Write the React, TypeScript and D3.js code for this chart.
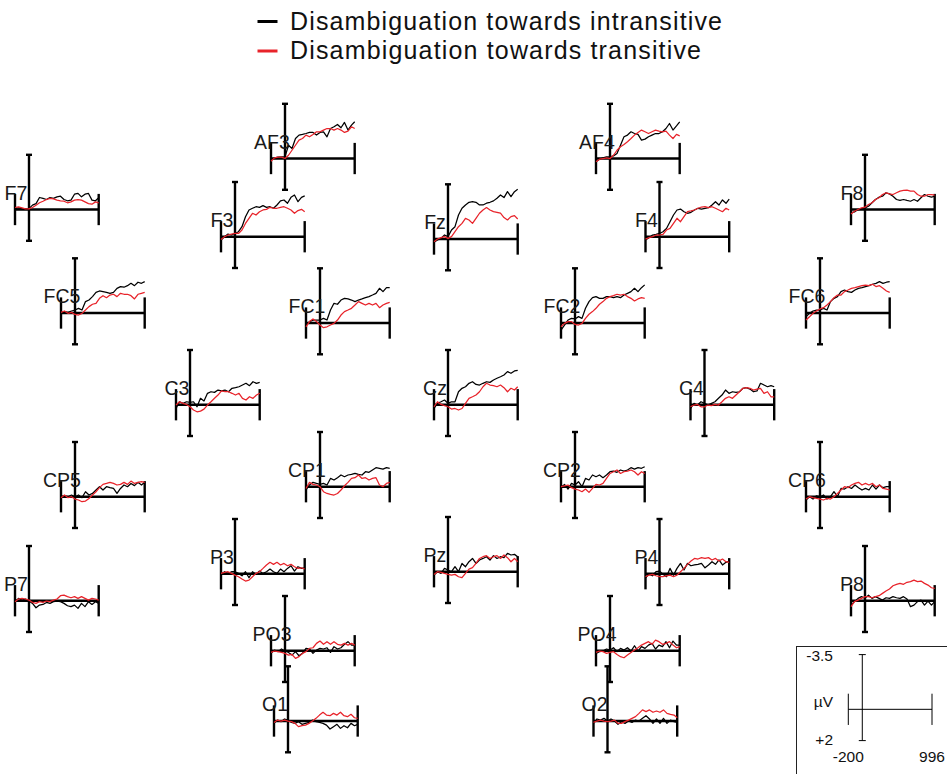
import React from 'react';
import * as d3 from 'd3';

// sample times (ms) for every waveform
const times = [-200, -150, -100, -50, 0, 50, 100, 150, 200, 250, 300, 350, 400, 450, 500, 550, 600, 650, 700, 750, 800, 850, 900, 950, 996];

const seriesNames = ['Disambiguation towards intransitive', 'Disambiguation towards transitive'];

// amplitudes in microvolts (negative plotted up), intransitive / transitive
const F7_intr = [-0.06, -0.11, -0.06, -0.04, -0.06, -0.28, -0.38, -0.77, -0.71, -0.64, -0.77, -0.71, -0.81, -0.85, -0.64, -0.56, -0.6, -0.98, -1.03, -0.81, -0.98, -1.03, -0.6, -0.56, -0.75];
const F7_tran = [-0.13, -0.17, -0.11, -0.04, -0.04, -0.13, -0.28, -0.43, -0.53, -0.64, -0.71, -0.68, -0.6, -0.56, -0.53, -0.43, -0.49, -0.6, -0.64, -0.6, -0.49, -0.38, -0.34, -0.49, -0.43];
const AF3_intr = [0.11, -0.04, -0.09, -0.11, -0.11, -0.85, -0.64, -1.28, -1.5, -1.54, -1.6, -1.67, -1.67, -1.5, -1.67, -1.71, -1.39, -1.92, -2.03, -2.18, -1.97, -2.31, -1.82, -2.14, -2.35];
const AF3_tran = [0.17, -0.04, -0.09, -0.09, 0, -0.21, -0.53, -0.85, -1.18, -1.28, -1.5, -1.39, -1.54, -1.71, -1.71, -1.82, -1.92, -1.92, -1.82, -1.92, -1.82, -1.67, -1.75, -2.03, -1.92];
const F3_intr = [0.21, 0, -0.17, -0.11, -0.21, -0.32, -0.64, -1.28, -1.71, -1.82, -1.92, -1.88, -1.99, -1.88, -1.92, -1.82, -2.03, -2.29, -2.35, -2.14, -2.52, -2.67, -2.24, -2.52, -2.61];
const F3_tran = [0.17, 0, -0.11, -0.17, -0.21, -0.21, -0.43, -0.85, -1.18, -1.5, -1.39, -1.6, -1.71, -1.75, -1.88, -1.82, -1.82, -1.88, -1.92, -1.82, -1.71, -1.5, -1.67, -1.75, -1.6];
const Fz_intr = [0.21, 0.06, -0.04, -0.26, -0.15, -0.58, -0.79, -1.54, -1.97, -2.18, -2.35, -2.39, -2.35, -2.18, -2.18, -2.29, -2.35, -2.44, -2.61, -2.82, -2.65, -3.03, -2.71, -3.03, -3.18];
const Fz_tran = [0.17, 0, -0.09, -0.15, -0.04, -0.15, -0.47, -0.79, -1.0, -1.32, -1.22, -1.0, -1.32, -1.65, -1.86, -2.01, -1.86, -1.75, -1.71, -1.65, -1.37, -1.22, -1.43, -1.5, -1.28];
const AF4_intr = [0.21, 0.04, -0.04, -0.11, -0.11, -0.17, -0.32, -0.85, -1.39, -1.5, -1.71, -1.6, -1.54, -1.18, -1.24, -1.39, -1.5, -1.6, -1.6, -1.71, -1.92, -2.24, -1.82, -2.09, -2.35];
const AF4_tran = [0.21, 0.04, 0, -0.04, 0, -0.21, -0.53, -0.75, -0.9, -1.07, -1.28, -1.5, -1.67, -1.82, -1.71, -1.6, -1.71, -1.82, -1.75, -1.71, -1.75, -1.5, -1.28, -1.54, -1.45];
const F4_intr = [0.21, 0.06, -0.11, -0.15, -0.21, -0.32, -0.53, -0.96, -1.39, -1.71, -1.77, -1.6, -1.5, -1.56, -1.71, -1.82, -1.77, -1.82, -1.86, -2.03, -2.24, -2.03, -2.35, -2.14, -2.41];
const F4_tran = [0.15, 0.06, 0, -0.11, -0.11, -0.15, -0.43, -0.53, -0.85, -1.18, -0.96, -1.28, -1.6, -1.65, -1.71, -1.82, -1.9, -1.92, -1.86, -1.92, -1.82, -1.71, -1.6, -1.82, -1.71];
const F8_intr = [0.21, 0.15, 0, -0.06, -0.11, -0.21, -0.43, -0.64, -0.79, -0.85, -1.07, -1.0, -0.85, -0.64, -0.58, -0.64, -0.58, -0.53, -0.64, -0.53, -0.75, -0.96, -0.85, -0.79, -0.85];
const F8_tran = [0.28, 0.11, 0, -0.11, -0.15, -0.32, -0.43, -0.64, -0.75, -0.96, -1.07, -1.0, -0.96, -1.07, -1.18, -1.22, -1.24, -1.18, -1.18, -0.96, -0.85, -0.85, -0.96, -0.96, -0.92];
const FC5_intr = [0.02, -0.09, -0.04, -0.13, -0.19, -0.3, -0.19, -0.73, -0.83, -1.05, -1.32, -1.41, -1.37, -1.32, -1.26, -1.32, -1.58, -1.69, -1.65, -1.75, -1.9, -1.75, -1.97, -1.9, -2.01];
const FC5_tran = [-0.04, -0.13, 0.02, -0.04, 0.09, 0.13, 0.02, -0.19, -0.41, -0.56, -0.62, -0.94, -1.11, -0.98, -1.15, -1.2, -1.05, -1.26, -1.2, -1.2, -1.11, -0.9, -1.2, -1.26, -1.32];
const FC1_intr = [0.13, -0.09, -0.19, -0.19, -0.19, -0.3, -0.19, -0.83, -1.26, -1.2, -1.47, -1.58, -1.54, -1.47, -1.37, -1.47, -1.54, -1.62, -1.69, -1.79, -1.9, -2.22, -2.01, -2.26, -2.26];
const FC1_tran = [0.24, -0.09, -0.26, -0.09, 0.13, 0.3, 0.24, 0.13, 0.02, -0.19, -0.51, -0.73, -0.83, -0.94, -1.15, -1.37, -1.26, -1.15, -1.26, -1.15, -1.26, -0.98, -1.15, -1.26, -1.32];
const FC2_intr = [0.45, 0.13, -0.19, -0.3, -0.26, -0.41, -0.3, -0.94, -1.37, -1.62, -1.69, -1.58, -1.58, -1.69, -1.69, -1.62, -1.69, -1.62, -1.79, -1.9, -2.01, -2.22, -2.01, -2.26, -2.44];
const FC2_tran = [0.24, 0.02, -0.09, -0.09, 0.09, 0.13, 0.02, -0.3, -0.56, -0.73, -0.94, -1.2, -1.37, -1.58, -1.69, -1.75, -1.84, -1.79, -1.84, -1.69, -1.58, -1.41, -1.54, -1.62, -1.58];
const FC6_intr = [0.24, 0.02, -0.13, -0.19, -0.19, -0.3, -0.19, -0.73, -0.94, -1.05, -1.37, -1.47, -1.37, -1.32, -1.47, -1.58, -1.62, -1.69, -1.75, -1.84, -1.9, -2.01, -1.9, -1.97, -2.01];
const FC6_tran = [0.45, 0.24, 0.02, -0.13, -0.26, -0.34, -0.51, -0.73, -0.98, -1.15, -1.15, -1.37, -1.47, -1.58, -1.62, -1.69, -1.75, -1.79, -1.75, -1.84, -1.69, -1.75, -1.58, -1.41, -1.32];
const C3_intr = [0.24, -0.19, -0.09, -0.19, -0.15, -0.19, 0.13, -0.41, -0.24, -0.73, -0.83, -0.79, -0.94, -0.88, -0.94, -0.83, -1.05, -1.09, -1.15, -1.26, -1.37, -1.22, -1.47, -1.37, -1.43];
const C3_tran = [0.02, -0.19, -0.09, -0.02, 0.13, 0.34, 0.45, 0.41, 0.28, 0.02, -0.19, -0.41, -0.62, -0.88, -0.83, -0.83, -0.73, -0.62, -0.73, -0.41, -0.3, -0.51, -0.41, -0.62, -0.73];
const Cz_intr = [0.24, -0.09, -0.19, -0.3, -0.09, -0.19, -0.19, -0.83, -1.05, -1.15, -1.37, -1.47, -1.3, -1.26, -1.37, -1.47, -1.43, -1.58, -1.69, -1.79, -1.9, -2.12, -2.01, -2.16, -2.2];
const Cz_tran = [0.13, -0.19, -0.02, 0.06, 0.13, 0.28, 0.24, 0.34, 0.24, -0.09, -0.41, -0.51, -0.62, -0.83, -1.15, -1.37, -1.26, -1.22, -1.15, -1.26, -1.09, -0.83, -1.05, -0.94, -1.15];
const C4_intr = [0.24, -0.09, 0.02, -0.19, -0.09, 0.02, -0.09, -0.19, -0.41, -0.62, -0.94, -0.73, -0.83, -0.79, -0.83, -1.05, -1.09, -1.0, -0.83, -0.88, -1.37, -1.26, -1.15, -1.22, -1.15];
const C4_tran = [0.13, 0.02, -0.02, 0.13, 0.13, 0.02, 0.06, -0.02, 0.02, -0.19, -0.41, -0.51, -0.41, -0.62, -0.83, -1.05, -1.09, -1.05, -0.94, -1.0, -1.05, -0.73, -0.83, -0.51, -0.51];
const CP5_intr = [0, -0.06, 0, -0.11, 0, -0.11, 0.06, -0.32, -0.11, -0.21, -0.43, -0.64, -0.43, -0.64, -0.58, -0.53, -0.21, -0.53, -0.75, -0.64, -0.85, -0.71, -0.92, -0.75, -0.92];
const CP5_tran = [0.06, -0.11, 0.06, 0, 0.15, 0.21, 0.32, 0.28, 0.11, -0.11, -0.32, -0.58, -0.79, -0.85, -0.92, -0.85, -0.75, -0.79, -0.92, -0.79, -1.0, -0.85, -0.92, -0.96, -0.92];
const CP1_intr = [0.21, -0.11, -0.28, -0.21, -0.15, -0.21, -0.11, -0.53, -0.43, -0.58, -0.75, -0.64, -0.75, -0.79, -0.85, -0.79, -0.75, -0.96, -0.92, -1.07, -1.22, -1.18, -1.13, -1.22, -1.18];
const CP1_tran = [0.11, -0.28, -0.15, -0.11, 0, 0.32, 0.43, 0.49, 0.53, 0.43, 0.21, -0.06, -0.28, -0.53, -0.58, -0.75, -0.53, -0.58, -0.43, -0.53, -0.58, -0.11, 0, -0.21, -0.28];
const CP2_intr = [0.06, -0.15, 0.15, -0.21, -0.11, -0.32, 0, -0.53, -0.43, -0.75, -0.64, -0.75, -0.58, -0.75, -0.96, -1.0, -0.92, -1.07, -1.0, -1.07, -1.22, -1.13, -1.22, -1.18, -1.28];
const CP2_tran = [0, -0.06, -0.11, 0.06, 0.15, 0.21, 0.32, 0.15, 0.36, 0.11, -0.15, -0.11, -0.21, -0.53, -0.85, -0.96, -1.07, -0.85, -0.96, -1.0, -1.07, -0.96, -0.75, -0.96, -0.85];
const CP6_intr = [0.21, 0, 0.15, -0.06, 0, -0.11, 0.15, 0, -0.32, 0, -0.53, -0.49, -0.64, -0.53, -0.75, -0.58, -0.43, -0.53, -0.43, -0.75, -0.49, -0.75, -0.58, -0.64, -0.64];
const CP6_tran = [0.15, 0, 0.06, 0.11, 0.15, 0.21, 0.11, 0.15, 0, -0.21, -0.43, -0.64, -0.58, -0.75, -0.85, -0.92, -0.75, -0.85, -0.75, -0.85, -0.64, -0.75, -0.53, -0.49, -0.43];
const P7_intr = [0.06, -0.15, -0.04, -0.11, 0.02, 0.17, 0.45, 0.28, 0.24, 0.11, 0.17, 0.06, 0.02, 0.06, 0.17, 0.32, 0.38, 0.28, 0.49, 0.17, 0.38, 0.06, 0.24, 0.06, 0.17];
const P7_tran = [0.06, -0.11, -0.15, -0.11, -0.04, 0.11, 0.17, 0.06, 0.11, 0.02, 0.06, -0.04, -0.11, -0.32, -0.36, -0.26, -0.19, -0.26, -0.15, -0.26, -0.15, -0.04, -0.15, -0.11, -0.04];
const P3_intr = [0.09, -0.13, -0.02, -0.13, -0.13, -0.02, 0.13, -0.13, 0.26, -0.13, 0.04, -0.17, -0.02, -0.13, -0.3, -0.13, -0.02, -0.3, -0.13, -0.34, -0.51, -0.17, -0.45, -0.34, -0.38];
const P3_tran = [-0.02, -0.09, -0.13, -0.02, 0.09, 0.19, 0.34, 0.47, 0.41, 0.19, -0.02, -0.13, -0.34, -0.56, -0.73, -0.6, -0.73, -0.56, -0.66, -0.51, -0.6, -0.45, -0.34, -0.38, -0.3];
const Pz_intr = [0.21, 0, 0.11, -0.21, -0.11, 0, -0.32, 0, -0.53, -0.32, -0.64, -0.85, -0.53, -0.75, -0.85, -0.96, -0.75, -1.03, -0.85, -0.96, -0.9, -1.18, -1.07, -1.11, -0.96];
const Pz_tran = [0.17, 0, 0.04, 0.11, 0.17, 0.21, 0.17, 0.32, 0.38, 0.11, -0.17, -0.26, -0.53, -0.85, -0.96, -1.03, -0.85, -0.96, -1.03, -0.85, -1.07, -0.9, -0.64, -0.85, -0.64];
const P4_intr = [0.26, 0.04, 0.13, -0.13, -0.17, 0.04, 0.19, -0.34, 0.09, -0.34, -0.66, -0.24, -0.66, -0.51, -0.56, -0.6, -0.66, -0.38, -0.56, -0.77, -0.6, -0.88, -0.56, -0.73, -0.81];
const P4_tran = [0.19, 0.09, 0.04, 0.13, 0.19, 0.19, 0.13, 0.09, 0.19, 0.09, -0.13, -0.34, -0.6, -0.81, -0.98, -0.94, -1.03, -0.98, -1.03, -0.88, -0.98, -0.81, -0.94, -0.77, -0.73];
const P8_intr = [0.28, 0.06, -0.15, -0.26, -0.15, -0.36, -0.15, -0.26, -0.15, -0.04, -0.19, -0.15, -0.26, -0.19, -0.15, -0.26, -0.11, 0.38, 0.28, 0.06, -0.04, 0.28, 0.02, 0.28, 0.06];
const P8_tran = [0.38, 0.06, -0.04, -0.15, -0.26, -0.26, -0.19, -0.26, -0.32, -0.47, -0.62, -0.75, -0.96, -1.05, -1.11, -1.05, -1.18, -1.22, -1.32, -1.22, -1.26, -1.11, -1.0, -0.83, -0.79];
const PO3_intr = [0.17, -0.04, 0.06, -0.11, 0.02, 0.11, 0.28, 0.06, 0.32, 0.17, -0.15, -0.11, 0.17, -0.04, -0.15, -0.11, -0.19, 0.11, -0.26, -0.11, -0.19, -0.41, -0.58, -0.36, -0.36];
const PO3_tran = [0.11, 0.02, 0.06, 0.11, 0.17, 0.28, 0.24, 0.49, 0.38, 0.17, 0.06, -0.15, -0.19, -0.47, -0.62, -0.41, -0.58, -0.41, -0.58, -0.41, -0.36, -0.47, -0.36, -0.47, -0.36];
const PO4_intr = [0.17, 0.06, 0.02, -0.11, -0.04, -0.19, 0.06, -0.15, -0.04, -0.19, 0.02, -0.32, 0.02, -0.26, -0.15, -0.36, -0.47, -0.11, -0.36, -0.26, -0.58, -0.19, -0.62, -0.36, -0.36];
const PO4_tran = [0.11, 0.02, 0.06, 0.17, 0.11, 0.06, 0.24, 0.38, 0.45, 0.28, 0.11, -0.04, -0.19, -0.36, -0.47, -0.58, -0.41, -0.68, -0.58, -0.41, -0.47, -0.58, -0.36, -0.19, -0.26];
const O1_intr = [0.15, -0.06, 0.04, -0.13, -0.06, 0.09, 0.15, 0.04, 0.21, 0.15, 0.09, -0.06, 0.04, 0.09, 0.15, 0.26, 0.51, 0.36, 0.21, 0.47, 0.3, 0.43, 0.15, 0.3, 0.21];
const O1_tran = [0.09, -0.06, 0, -0.06, 0, 0.04, 0.15, 0.36, 0.3, 0.26, 0.15, 0, -0.17, -0.38, -0.56, -0.38, -0.34, -0.49, -0.38, -0.56, -0.34, -0.28, -0.43, -0.21, -0.17];
const O2_intr = [0.15, -0.13, -0.06, -0.17, 0, -0.13, 0, 0.21, 0.04, 0.15, 0, 0.09, -0.06, 0, -0.17, -0.34, -0.13, 0.15, -0.13, 0.15, -0.17, 0.15, -0.06, 0.04, 0.09];
const O2_tran = [0.09, 0, -0.06, 0, 0.04, 0, -0.06, 0.15, 0.15, 0.04, -0.06, -0.17, -0.28, -0.49, -0.71, -0.6, -0.71, -0.56, -0.64, -0.56, -0.71, -0.49, -0.43, -0.38, -0.21];

const channels = [
  { name: 'F7', intr: F7_intr, tran: F7_tran },
  { name: 'AF3', intr: AF3_intr, tran: AF3_tran },
  { name: 'F3', intr: F3_intr, tran: F3_tran },
  { name: 'Fz', intr: Fz_intr, tran: Fz_tran },
  { name: 'AF4', intr: AF4_intr, tran: AF4_tran },
  { name: 'F4', intr: F4_intr, tran: F4_tran },
  { name: 'F8', intr: F8_intr, tran: F8_tran },
  { name: 'FC5', intr: FC5_intr, tran: FC5_tran },
  { name: 'FC1', intr: FC1_intr, tran: FC1_tran },
  { name: 'FC2', intr: FC2_intr, tran: FC2_tran },
  { name: 'FC6', intr: FC6_intr, tran: FC6_tran },
  { name: 'C3', intr: C3_intr, tran: C3_tran },
  { name: 'Cz', intr: Cz_intr, tran: Cz_tran },
  { name: 'C4', intr: C4_intr, tran: C4_tran },
  { name: 'CP5', intr: CP5_intr, tran: CP5_tran },
  { name: 'CP1', intr: CP1_intr, tran: CP1_tran },
  { name: 'CP2', intr: CP2_intr, tran: CP2_tran },
  { name: 'CP6', intr: CP6_intr, tran: CP6_tran },
  { name: 'P7', intr: P7_intr, tran: P7_tran },
  { name: 'P3', intr: P3_intr, tran: P3_tran },
  { name: 'Pz', intr: Pz_intr, tran: Pz_tran },
  { name: 'P4', intr: P4_intr, tran: P4_tran },
  { name: 'P8', intr: P8_intr, tran: P8_tran },
  { name: 'PO3', intr: PO3_intr, tran: PO3_tran },
  { name: 'PO4', intr: PO4_intr, tran: PO4_tran },
  { name: 'O1', intr: O1_intr, tran: O1_tran },
  { name: 'O2', intr: O2_intr, tran: O2_tran },
];

// scalp layout: origin (t = 0, 0 uV) of each panel in the page
const panelLayout: Record<string, [number, number]> = {
  F7: [29, 209.5], AF3: [285, 158.5], F3: [235, 236.7], Fz: [448, 239], AF4: [610, 158.5], F4: [659.5, 236.7], F8: [865, 209.5],
  FC5: [75, 313], FC1: [320, 323], FC2: [575, 323], FC6: [820, 313],
  C3: [190, 404.7], Cz: [448, 404.7], C4: [704.5, 404.7],
  CP5: [75, 496.7], CP1: [320, 486.7], CP2: [575, 486.7], CP6: [820, 496.7],
  P7: [29, 600.7], P3: [235, 573.7], Pz: [448, 571.7], P4: [659.5, 573.7], P8: [865, 600.7],
  PO3: [285, 650.7], PO4: [610, 650.7], O1: [288, 721], O2: [607.5, 721],
};

const timeRange = [-200, 996];
const voltRange = [-3.5, 2];
const colors = ['#000000', '#e8232a'];
const FONT = 'Liberation Sans, Arial, Helvetica, sans-serif';

const makeScales = (x0: number, y0: number) => {
  const x = d3.scaleLinear().domain(timeRange).range([x0 - 14, x0 + 69.7]);
  const y = d3.scaleLinear().domain(voltRange).range([y0 - 54.7, y0 + 31.3]);
  return { x, y };
};

const Axes = ({ x, y, sw, cap }: { x: d3.ScaleLinear<number, number>; y: d3.ScaleLinear<number, number>; sw: number; cap: number }) => {
  const xz = x(0), yz = y(0);
  const top = y(voltRange[0]), bot = y(voltRange[1]);
  const l = x(timeRange[0]), r = x(timeRange[1]);
  return (
    <g stroke="#000" strokeWidth={sw} fill="none">
      <line x1={xz} x2={xz} y1={top} y2={bot} />
      <line x1={xz - cap} x2={xz + cap} y1={top} y2={top} />
      <line x1={xz - cap} x2={xz + cap} y1={bot} y2={bot} />
      <line x1={l} x2={r} y1={yz} y2={yz} />
      <line x1={l} x2={l} y1={y(-1)} y2={y(1)} />
      <line x1={r} x2={r} y1={y(-1)} y2={y(1)} />
    </g>
  );
};

const App = () => {
  const W = 947, H = 774;
  return (
    <svg width={W} height={H} style={{ position: 'absolute', left: 0, top: 0, display: 'block', background: '#fff' }} fontFamily={FONT}>
      <rect width={W} height={H} fill="#fff" />

      {/* legend */}
      {seriesNames.map((s, i) => (
        <g key={s}>
          <line x1={257.5} x2={277.5} y1={21.5 + i * 29.5} y2={21.5 + i * 29.5} stroke={colors[i]} strokeWidth={3} />
          <text x={290} y={29.5 + i * 29.5} fontSize={25} fill="#111" textLength={i === 0 ? 432 : 411} lengthAdjust="spacing">{s}</text>
        </g>
      ))}

      {channels.map(ch => {
        const [x0, y0] = panelLayout[ch.name];
        const { x, y } = makeScales(x0, y0);
        const line = d3.line<number>().x((_, i) => x(times[i])).y(d => y(d));
        return (
          <g key={ch.name}>
            <Axes x={x} y={y} sw={2.4} cap={3} />
            <path d={line(ch.intr) || ''} fill="none" stroke={colors[0]} strokeWidth={1.25} strokeLinejoin="round" />
            <path d={line(ch.tran) || ''} fill="none" stroke={colors[1]} strokeWidth={1.25} strokeLinejoin="round" />
            <text x={x0 - 13} y={y0 - 10} fontSize={19.5} textAnchor="middle" fill="#1a1a1a">{ch.name}</text>
          </g>
        );
      })}

      {/* scale box */}
      {(() => {
        const { x, y } = makeScales(862.3, 709.3);
        return (
          <g>
            <rect x={796.5} y={646.5} width={200} height={200} fill="none" stroke="#222" strokeWidth={1} />
            <Axes x={x} y={y} sw={1} cap={3.5} />
            <g fontSize={15.5} fill="#111">
              <text x={833} y={661} textAnchor="end">{voltRange[0]}</text>
              <text x={833} y={707} textAnchor="end">µV</text>
              <text x={833} y={745} textAnchor="end">+{voltRange[1]}</text>
              <text x={x(timeRange[0])} y={762} textAnchor="middle">{timeRange[0]}</text>
              <text x={x(timeRange[1])} y={762} textAnchor="middle">{timeRange[1]}</text>
            </g>
          </g>
        );
      })()}
    </svg>
  );
};

export default App;
